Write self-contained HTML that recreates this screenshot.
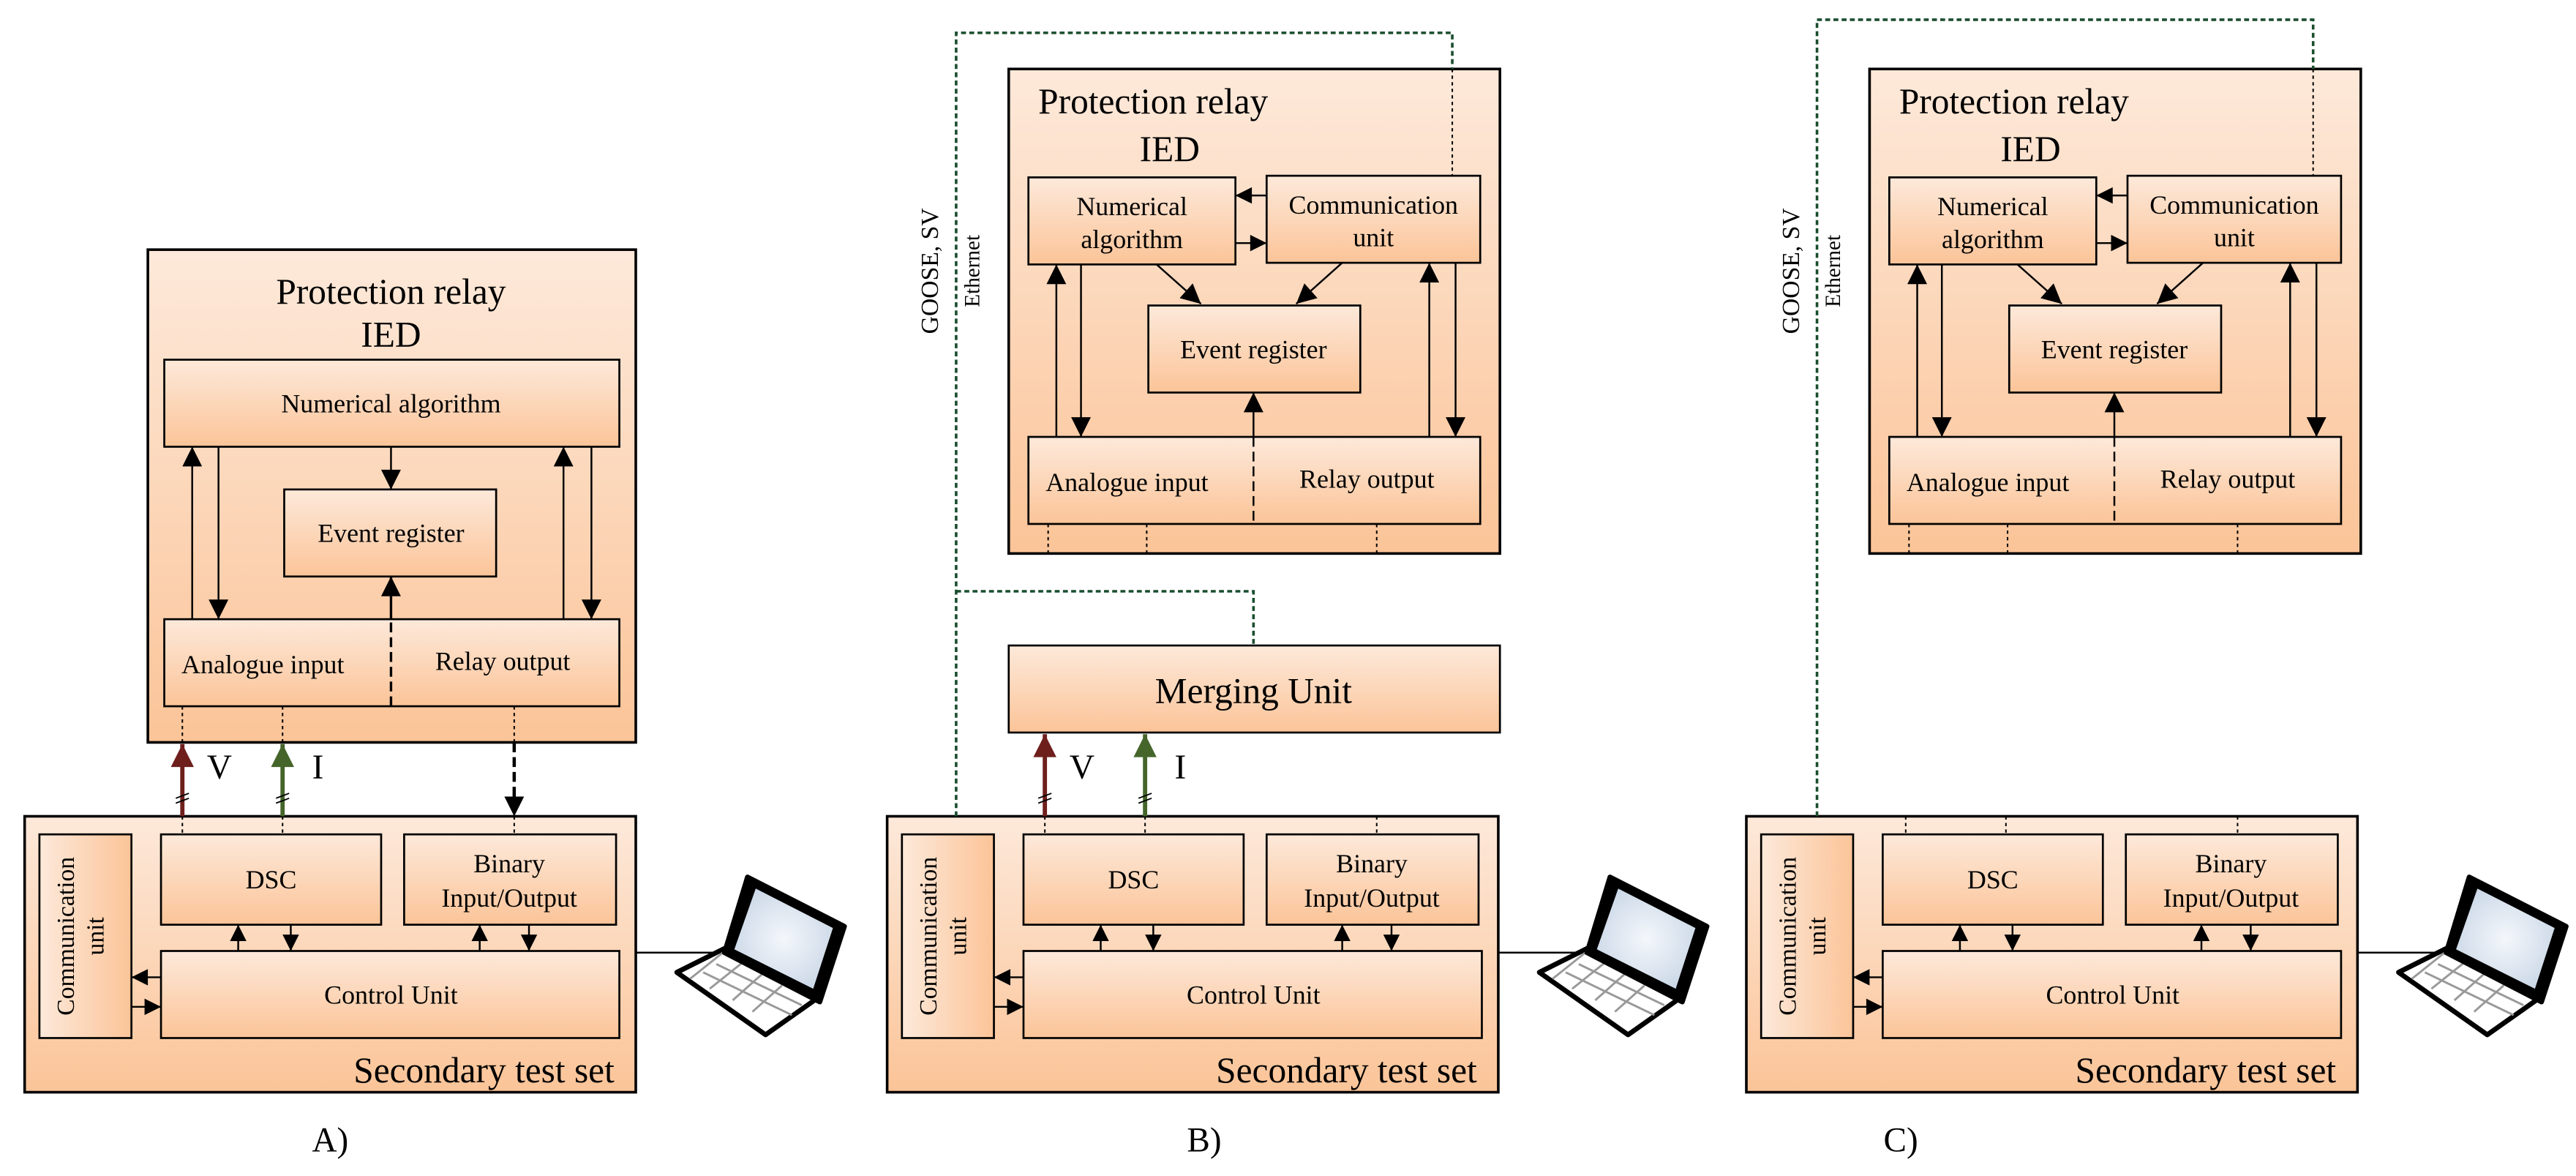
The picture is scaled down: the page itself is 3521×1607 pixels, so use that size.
<!DOCTYPE html>
<html><head><meta charset="utf-8"><style>
html,body{margin:0;padding:0;background:#fff}
svg{display:block}
</style></head><body>
<svg width="3521" height="1607" viewBox="0 0 1568 716" preserveAspectRatio="none" xmlns="http://www.w3.org/2000/svg" font-family="'Liberation Serif', 'DejaVu Serif', serif">
<defs>
<linearGradient id="g" x1="0" y1="0" x2="0" y2="1"><stop offset="0" stop-color="#fde9da"/><stop offset="1" stop-color="#fbc498"/></linearGradient>
<linearGradient id="gh" x1="0" y1="0" x2="1" y2="0"><stop offset="0" stop-color="#fde9da"/><stop offset="1" stop-color="#fbc498"/></linearGradient>
<radialGradient id="scr" cx="0.5" cy="0.5" r="0.6"><stop offset="0" stop-color="#f4f7fb"/><stop offset="1" stop-color="#c9d6e6"/></radialGradient>
<marker id="a" viewBox="0 0 10 10" refX="10" refY="5" markerWidth="11" markerHeight="10" markerUnits="userSpaceOnUse" orient="auto"><path d="M0,0L10,5L0,10z" fill="#000"/></marker>
<marker id="ab" viewBox="0 0 10 10" refX="10" refY="5" markerWidth="14" markerHeight="12" markerUnits="userSpaceOnUse" orient="auto"><path d="M0,0L10,5L0,10z" fill="#000"/></marker>
<marker id="ar" viewBox="0 0 10 10" refX="10" refY="5" markerWidth="18" markerHeight="14" markerUnits="userSpaceOnUse" orient="auto"><path d="M0,0L10,5L0,10z" fill="#6e1f1c"/></marker>
<marker id="ag" viewBox="0 0 10 10" refX="10" refY="5" markerWidth="18" markerHeight="14" markerUnits="userSpaceOnUse" orient="auto"><path d="M0,0L10,5L0,10z" fill="#45652a"/></marker>
<g id="ts">
<rect x="15" y="497" width="372" height="168" fill="url(#g)" stroke="#000" stroke-width="1.6"/>
<rect x="24" y="508" width="56" height="124" fill="url(#gh)" stroke="#000" stroke-width="1.2"/>
<text transform="translate(45,570) rotate(-90)" text-anchor="middle" font-size="15">Communication</text>
<text transform="translate(63,570) rotate(-90)" text-anchor="middle" font-size="15">unit</text>
<rect x="98" y="508" width="134" height="55" fill="url(#g)" stroke="#000" stroke-width="1.2"/>
<text x="165" y="541" text-anchor="middle" font-size="16">DSC</text>
<rect x="246" y="508" width="129" height="55" fill="url(#g)" stroke="#000" stroke-width="1.2"/>
<text x="310" y="531" text-anchor="middle" font-size="16">Binary</text>
<text x="310" y="552" text-anchor="middle" font-size="16">Input/Output</text>
<rect x="98" y="579" width="279" height="53" fill="url(#g)" stroke="#000" stroke-width="1.2"/>
<text x="238" y="611" text-anchor="middle" font-size="16">Control Unit</text>
<g stroke="#000" stroke-width="1.1" fill="none">
<line x1="145" y1="579" x2="145" y2="563" marker-end="url(#a)"/>
<line x1="177" y1="563" x2="177" y2="579" marker-end="url(#a)"/>
<line x1="292" y1="579" x2="292" y2="563" marker-end="url(#a)"/>
<line x1="322" y1="563" x2="322" y2="579" marker-end="url(#a)"/>
<line x1="98" y1="595" x2="80" y2="595" marker-end="url(#a)"/>
<line x1="80" y1="613" x2="98" y2="613" marker-end="url(#a)"/>
<line x1="387" y1="580" x2="460" y2="580"/>
</g>
<text x="374" y="659" text-anchor="end" font-size="22">Secondary test set</text>
<polygon points="412,592 446,575 500,606 466,630" fill="#fff" stroke="#000" stroke-width="3" stroke-linejoin="round"/>
<g stroke="#999" stroke-width="1.3">
<line x1="428" y1="592" x2="482" y2="618"/><line x1="436" y1="587" x2="488" y2="612"/><line x1="443" y1="582" x2="493" y2="607"/>
<line x1="440" y1="580" x2="420" y2="596"/><line x1="452" y1="586" x2="432" y2="602"/><line x1="464" y1="593" x2="446" y2="609"/><line x1="476" y1="600" x2="458" y2="616"/>
</g>
<polygon points="455,534 514,564 499,610 441,580" fill="#000" stroke="#000" stroke-width="3" stroke-linejoin="round"/>
<polygon points="460,541 507,565 495,602 447,578" fill="url(#scr)"/>
</g>
<g id="ied">
<rect x="614" y="42" width="299" height="295" fill="url(#g)" stroke="#000" stroke-width="1.6"/>
<text x="632" y="69" font-size="22">Protection relay</text>
<text x="712" y="98" text-anchor="middle" font-size="22">IED</text>
<rect x="626" y="108" width="126" height="53" fill="url(#g)" stroke="#000" stroke-width="1.2"/>
<text x="689" y="131" text-anchor="middle" font-size="16">Numerical</text>
<text x="689" y="151" text-anchor="middle" font-size="16">algorithm</text>
<rect x="771" y="107" width="130" height="53" fill="url(#g)" stroke="#000" stroke-width="1.2"/>
<text x="836" y="130" text-anchor="middle" font-size="16">Communication</text>
<text x="836" y="150" text-anchor="middle" font-size="16">unit</text>
<rect x="699" y="186" width="129" height="53" fill="url(#g)" stroke="#000" stroke-width="1.2"/>
<text x="763" y="218" text-anchor="middle" font-size="16">Event register</text>
<rect x="626" y="266" width="275" height="53" fill="url(#g)" stroke="#000" stroke-width="1.2"/>
<text x="686" y="299" text-anchor="middle" font-size="16">Analogue input</text>
<text x="832" y="297" text-anchor="middle" font-size="16">Relay output</text>
<g stroke="#000" stroke-width="1.1" fill="none">
<line x1="763" y1="266" x2="763" y2="319" stroke-dasharray="6,3"/>
<line x1="643" y1="266" x2="643" y2="161" marker-end="url(#ab)"/>
<line x1="658" y1="161" x2="658" y2="266" marker-end="url(#ab)"/>
<line x1="870" y1="266" x2="870" y2="160" marker-end="url(#ab)"/>
<line x1="886" y1="160" x2="886" y2="266" marker-end="url(#ab)"/>
<line x1="763" y1="266" x2="763" y2="239" marker-end="url(#ab)"/>
<line x1="704" y1="161" x2="731" y2="185" marker-end="url(#ab)"/>
<line x1="817" y1="160" x2="789" y2="185" marker-end="url(#ab)"/>
<line x1="771" y1="119" x2="752" y2="119" marker-end="url(#a)"/>
<line x1="752" y1="148" x2="771" y2="148" marker-end="url(#a)"/>
<g stroke-dasharray="2,2" stroke-width="0.9">
<line x1="638" y1="319" x2="638" y2="337"/><line x1="698" y1="319" x2="698" y2="337"/><line x1="838" y1="319" x2="838" y2="337"/>
<line x1="884" y1="42" x2="884" y2="107"/>
</g>
</g>
</g>
</defs>

<!-- Panel A -->
<use href="#ts"/>
<rect x="90" y="152" width="297" height="300" fill="url(#g)" stroke="#000" stroke-width="1.6"/>
<text x="238" y="185" text-anchor="middle" font-size="22">Protection relay</text>
<text x="238" y="211" text-anchor="middle" font-size="22">IED</text>
<rect x="100" y="219" width="277" height="53" fill="url(#g)" stroke="#000" stroke-width="1.2"/>
<text x="238" y="251" text-anchor="middle" font-size="16">Numerical algorithm</text>
<rect x="173" y="298" width="129" height="53" fill="url(#g)" stroke="#000" stroke-width="1.2"/>
<text x="238" y="330" text-anchor="middle" font-size="16">Event register</text>
<rect x="100" y="377" width="277" height="53" fill="url(#g)" stroke="#000" stroke-width="1.2"/>
<text x="160" y="410" text-anchor="middle" font-size="16">Analogue input</text>
<text x="306" y="408" text-anchor="middle" font-size="16">Relay output</text>
<g stroke="#000" stroke-width="1.1" fill="none">
<line x1="238" y1="430" x2="238" y2="377" stroke-dasharray="6,3" stroke-width="1.5"/>
<line x1="117" y1="377" x2="117" y2="272" marker-end="url(#ab)"/>
<line x1="133" y1="272" x2="133" y2="377" marker-end="url(#ab)"/>
<line x1="343" y1="377" x2="343" y2="272" marker-end="url(#ab)"/>
<line x1="360" y1="272" x2="360" y2="377" marker-end="url(#ab)"/>
<line x1="238" y1="272" x2="238" y2="298" marker-end="url(#ab)"/>
<line x1="238" y1="377" x2="238" y2="351" marker-end="url(#ab)" stroke-width="1.5"/>
<g stroke-dasharray="2,2" stroke-width="0.9">
<line x1="111" y1="430" x2="111" y2="452"/><line x1="172" y1="430" x2="172" y2="452"/><line x1="313" y1="430" x2="313" y2="452"/>
<line x1="111" y1="497" x2="111" y2="508"/><line x1="172" y1="497" x2="172" y2="508"/><line x1="313" y1="497" x2="313" y2="508"/>
</g>
<line x1="313" y1="452" x2="313" y2="497" stroke-width="2" stroke-dasharray="6,3" marker-end="url(#ab)"/>
</g>
<line x1="111" y1="497" x2="111" y2="453" stroke="#6e1f1c" stroke-width="2.6" marker-end="url(#ar)"/>
<line x1="172" y1="497" x2="172" y2="453" stroke="#45652a" stroke-width="2.6" marker-end="url(#ag)"/>
<g stroke="#000" stroke-width="0.8"><line x1="107" y1="486" x2="115" y2="483"/><line x1="107" y1="489" x2="115" y2="486"/><line x1="168" y1="486" x2="176" y2="483"/><line x1="168" y1="489" x2="176" y2="486"/></g>
<text x="126" y="474" font-size="21">V</text>
<text x="190" y="474" font-size="21">I</text>
<text x="201" y="701" text-anchor="middle" font-size="21">A)</text>

<!-- Panel B -->
<use href="#ts" transform="translate(525,0)"/>
<use href="#ied"/>
<rect x="614" y="393" width="299" height="53" fill="url(#g)" stroke="#000" stroke-width="1.2"/>
<text x="763" y="428" text-anchor="middle" font-size="22">Merging Unit</text>
<line x1="636" y1="497" x2="636" y2="447" stroke="#6e1f1c" stroke-width="2.6" marker-end="url(#ar)"/>
<line x1="697" y1="497" x2="697" y2="447" stroke="#45652a" stroke-width="2.6" marker-end="url(#ag)"/>
<g stroke="#000" stroke-width="0.8"><line x1="632" y1="486" x2="640" y2="483"/><line x1="632" y1="489" x2="640" y2="486"/><line x1="693" y1="486" x2="701" y2="483"/><line x1="693" y1="489" x2="701" y2="486"/></g>
<g stroke="#000" stroke-dasharray="2,2" stroke-width="0.9"><line x1="636" y1="497" x2="636" y2="508"/><line x1="697" y1="497" x2="697" y2="508"/><line x1="838" y1="497" x2="838" y2="508"/></g>
<text x="651" y="474" font-size="21">V</text>
<text x="715" y="474" font-size="21">I</text>
<path d="M582,497V20H884V42M582,360H763V393" fill="none" stroke="#1a4d2e" stroke-width="1.6" stroke-dasharray="3,2"/>
<text transform="translate(571,165) rotate(-90)" text-anchor="middle" font-size="15">GOOSE, SV</text>
<text transform="translate(596,165) rotate(-90)" text-anchor="middle" font-size="13">Ethernet</text>
<text x="733" y="701" text-anchor="middle" font-size="21">B)</text>

<!-- Panel C -->
<use href="#ts" transform="translate(1048,0)"/>
<use href="#ied" transform="translate(524,0)"/>
<g stroke="#000" stroke-dasharray="2,2" stroke-width="0.9"><line x1="1160" y1="497" x2="1160" y2="508"/><line x1="1221" y1="497" x2="1221" y2="508"/><line x1="1362" y1="497" x2="1362" y2="508"/></g>
<path d="M1106,497V12H1408V42" fill="none" stroke="#1a4d2e" stroke-width="1.6" stroke-dasharray="3,2"/>
<text transform="translate(1095,165) rotate(-90)" text-anchor="middle" font-size="15">GOOSE, SV</text>
<text transform="translate(1120,165) rotate(-90)" text-anchor="middle" font-size="13">Ethernet</text>
<text x="1157" y="701" text-anchor="middle" font-size="21">C)</text>
</svg>
</body></html>
